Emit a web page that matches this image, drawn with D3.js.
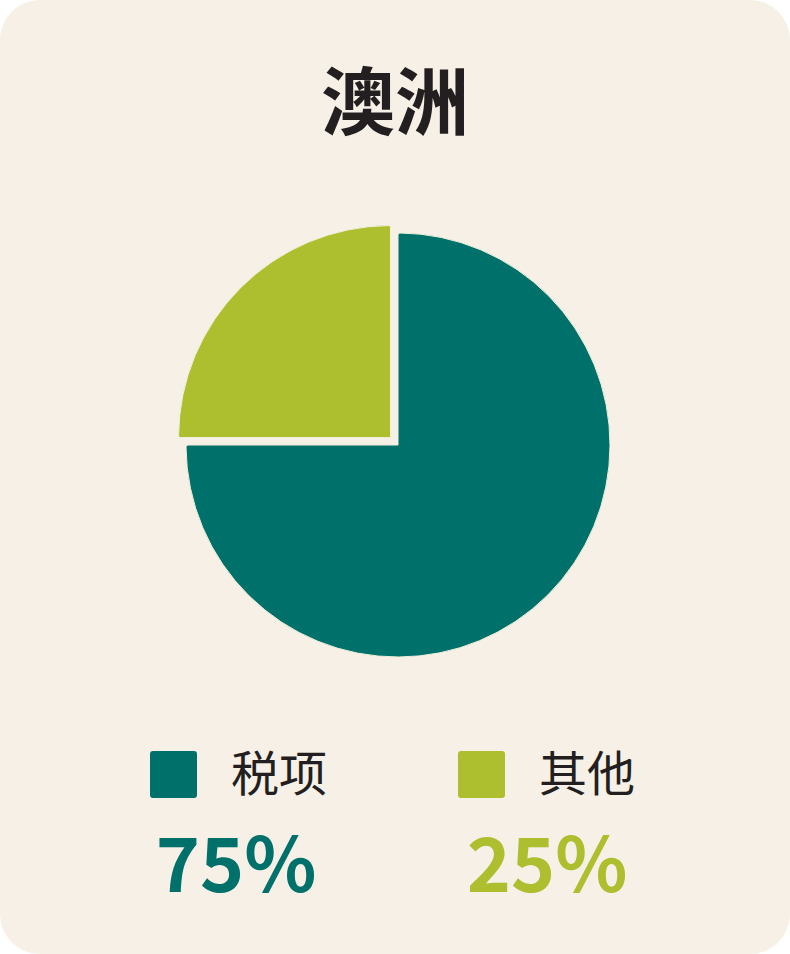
<!DOCTYPE html>
<html>
<head>
<meta charset="utf-8">
<script src="https://cdn.jsdelivr.net/npm/d3@7"></script>
<style>
  html, body { margin: 0; padding: 0; background: #ffffff; }
  svg { display: block; }
</style>
</head>
<body>
<div id="chart"></div>
<script>
// chart data
const title = "澳洲";
const categories = ["税项", "其他"];
const values = [75, 25];
const colors = ["#00706a", "#adbe2f"];
const explode = [0, 10.5]; // pull-out distance per slice

const width = 790;
const height = 954;
const bg = "#f6f0e6";
const ink = "#231f20";
const font = "'Noto Sans CJK SC', 'Noto Sans', sans-serif";

const svg = d3.select("#chart")
    .append("svg")
    .attr("width", width)
    .attr("height", height);

// card
svg.append("rect")
    .attr("x", 0).attr("y", 0)
    .attr("width", width).attr("height", height)
    .attr("rx", 40).attr("ry", 40)
    .attr("fill", bg);

svg.append("text")
    .attr("x", 395)
    .attr("y", 129)
    .attr("text-anchor", "middle")
    .attr("font-family", font)
    .attr("font-weight", 700)
    .attr("font-size", 74)
    .attr("fill", ink)
    .text(title);

// pie
const cx = 398, cy = 445, radius = 212;

const pie = d3.pie().sort(null).value(d => d)(values);
const arc = d3.arc().innerRadius(0).outerRadius(radius).cornerRadius(2);

const g = svg.append("g").attr("transform", `translate(${cx},${cy})`);

g.selectAll("path")
    .data(pie)
    .join("path")
    .attr("d", arc)
    .attr("fill", (d, i) => colors[i])
    .attr("stroke", "#f2f0dc")
    .attr("stroke-width", 1)
    .attr("transform", (d, i) => {
        const a = (d.startAngle + d.endAngle) / 2;
        const dx = Math.sin(a) * explode[i];
        const dy = -Math.cos(a) * explode[i];
        return `translate(${dx},${dy})`;
    });

// legend
const x = d3.scalePoint().domain(categories).range([150, 458]);

const item = svg.append("g").selectAll("g")
    .data(categories)
    .join("g")
    .attr("transform", d => `translate(${x(d)},0)`);

item.append("rect")
    .attr("x", 0).attr("y", 751)
    .attr("width", 47).attr("height", 47)
    .attr("rx", 3)
    .attr("fill", (d, i) => colors[i]);

item.append("text")
    .attr("x", 81)
    .attr("y", 791)
    .attr("font-family", font)
    .attr("font-size", 48)
    .attr("fill", ink)
    .text(d => d);

item.append("text")
    .attr("x", (d, i) => i === 0 ? 86 : 89)
    .attr("y", 892)
    .attr("text-anchor", "middle")
    .attr("font-family", font)
    .attr("font-weight", 700)
    .attr("font-size", 75)
    .attr("fill", (d, i) => colors[i])
    .text((d, i) => values[i] + "%");
</script>
</body>
</html>
